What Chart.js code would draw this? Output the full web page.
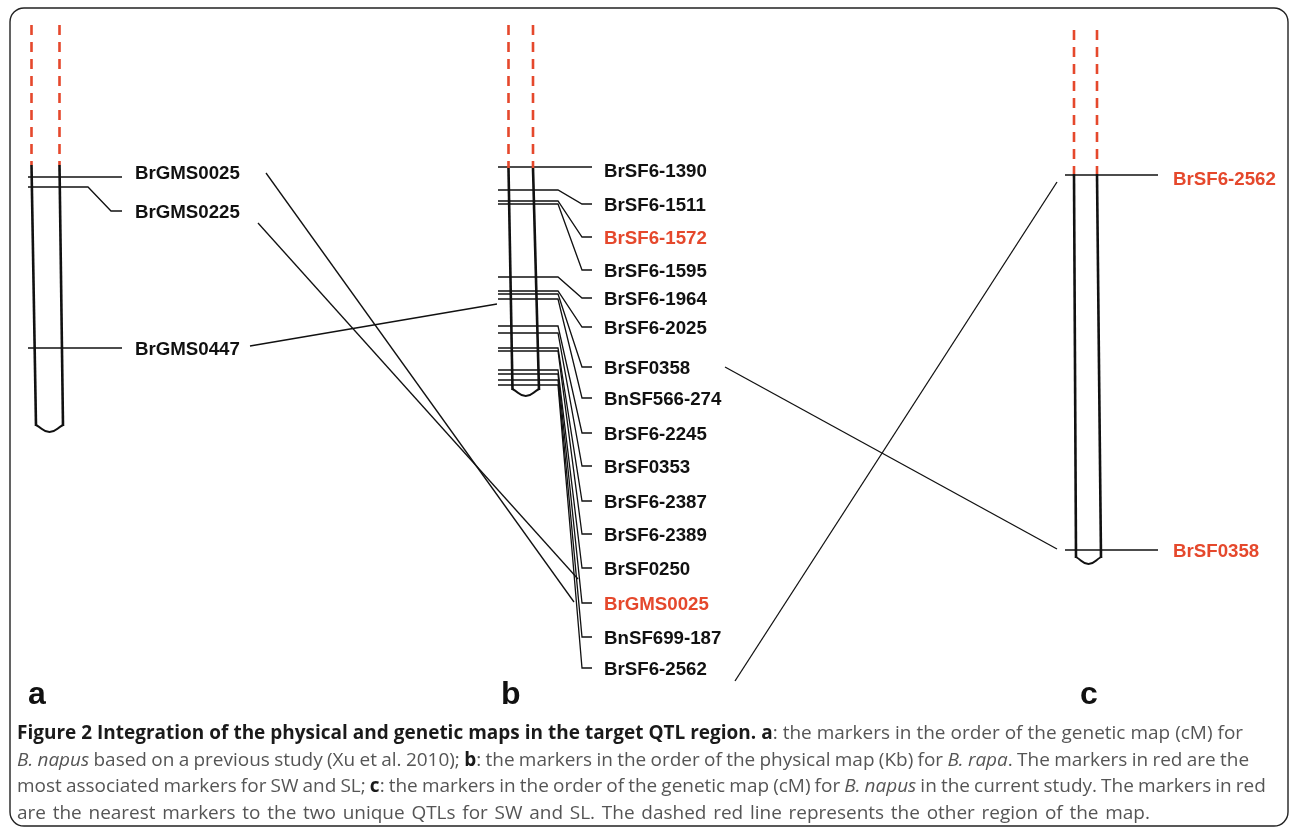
<!DOCTYPE html>
<html>
<head>
<meta charset="utf-8">
<title>Figure 2</title>
<script src="https://cdn.jsdelivr.net/npm/chart.js@4.4.1/dist/chart.umd.min.js"></script>
<style>
  body { margin: 0; background: #fff; }
  #wrap { position: relative; width: 1290px; height: 829px; overflow: hidden; }
  #chart { position: absolute; left: 0; top: 0; }
  #caption {
    position: absolute; left: 17px; top: 719px;
    font-family: 'Open Sans', sans-serif; font-size: 17px; line-height: 26.5px;
    color: #555; white-space: nowrap;
  }
  #caption b { color: #1a1a1a; }
</style>
</head>
<body>
<div id="wrap">
  <canvas id="chart" width="1290" height="829"></canvas>
  <div id="caption">
    <span class="line"><b>Figure 2 Integration of the physical and genetic maps in the target QTL region.</b> <b>a</b>: the markers in the order of the genetic map (cM) for</span><br>
    <span class="line"><i>B. napus</i> based on a previous study (Xu et al. 2010); <b>b</b>: the markers in the order of the physical map (Kb) for <i>B. rapa</i>. The markers in red are the</span><br>
    <span class="line">most associated markers for SW and SL; <b>c</b>: the markers in the order of the genetic map (cM) for <i>B. napus</i> in the current study. The markers in red</span><br>
    <span class="line">are the nearest markers to the two unique QTLs for SW and SL. The dashed red line represents the other region of the map.</span>
  </div>
</div>
<script>
// ---- data: markers and their positions along each map (top of figure = 0) ----
const markersA = ['BrGMS0025', 'BrGMS0225', 'BrGMS0447'];
const posA = [177, 187, 348];

const markersB = ['BrSF6-1390', 'BrSF6-1511', 'BrSF6-1572', 'BrSF6-1595', 'BrSF6-1964', 'BrSF6-2025',
  'BrSF0358', 'BnSF566-274', 'BrSF6-2245', 'BrSF0353', 'BrSF6-2387', 'BrSF6-2389', 'BrSF0250',
  'BrGMS0025', 'BnSF699-187', 'BrSF6-2562'];
const posB = [167, 190, 201, 204, 277, 291, 294, 299, 326, 333, 348, 351, 370, 374, 380, 385];

const markersC = ['BrSF6-2562', 'BrSF0358'];
const posC = [175, 550];

// markers in red
const redMarkers = { a: [], b: ['BrSF6-1572', 'BrGMS0025'], c: ['BrSF6-2562', 'BrSF0358'] };

// map extent: [start of dashed part, start of drawn part, end]
const extentA = [25, 165, 426];
const extentB = [25, 168, 390];
const extentC = [30, 174, 558];

// ---- layout ----
const RED = '#e5482c';
const INK = '#111';
const LABEL_FONT = 'bold 18.7px "Liberation Sans", Arial, sans-serif';

const panels = [
  { key: 'a', names: markersA, pos: posA, ext: extentA,
    left: [31.5, 36], right: [59.5, 63], tickFrom: 28, bend: 88, lead: 111, tickTo: 122,
    textX: 135, rows: [172, 211, 348], letterX: 28 },
  { key: 'b', names: markersB, pos: posB, ext: extentB,
    left: [508.5, 512.5], right: [533, 539], tickFrom: 498, bend: 558, lead: 582, tickTo: 592,
    textX: 604, rows: [170, 204, 237, 270, 298, 327, 367, 398, 433, 466, 501, 534, 568, 603, 637, 668], letterX: 501 },
  { key: 'c', names: markersC, pos: posC, ext: extentC,
    left: [1074, 1076], right: [1097, 1101], tickFrom: 1065, bend: 1100, lead: 1140, tickTo: 1158,
    textX: 1173, rows: [178, 550], letterX: 1080 }
];

// lines joining the same / related markers across the maps
const links = [
  [[266, 173], [574, 602]],
  [[258, 223], [578, 579]],
  [[250, 346], [497, 304]],
  [[725, 367], [1057, 549]],
  [[735, 681], [1057, 182]]
];

const datasets = [];
function addLine(points, opts) {
  datasets.push(Object.assign({
    data: points.map(p => ({ x: p[0], y: p[1] })),
    showLine: true, pointRadius: 0, borderColor: INK, borderWidth: 1.3,
    fill: false, tension: 0
  }, opts || {}));
}

panels.forEach(p => {
  // dashed red continuation above, then the drawn map
  [p.left, p.right].forEach(side => {
    addLine([[side[0], p.ext[0]], [side[0], p.ext[1]]], { borderColor: RED, borderWidth: 2.6, borderDash: [10, 7] });
    addLine([[side[0], p.ext[1]], [side[1], p.ext[2]]], { borderWidth: 2.6 });
  });
  // rounded bottom
  const mid = (p.left[1] + p.right[1]) / 2;
  addLine([[p.left[1], p.ext[2] - 1], [mid, p.ext[2] + 6], [p.right[1], p.ext[2] - 1]], { borderWidth: 2, tension: 0.5 });

  // marker ticks and leaders
  p.pos.forEach((v, i) => {
    const row = p.rows[i];
    if (Math.abs(row - v) <= 5) {
      addLine([[p.tickFrom, v], [p.tickTo, v]]);
    } else {
      addLine([[p.tickFrom, v], [p.bend, v], [p.lead, row], [p.tickTo, row]]);
    }
  });
});

links.forEach(l => addLine(l, { borderWidth: 1.3 }));

const textPlugin = {
  id: 'mapText',
  afterDatasetsDraw(chart) {
    const { ctx, scales: { x, y } } = chart;
    ctx.save();

    // frame around the figure
    ctx.strokeStyle = '#222';
    ctx.lineWidth = 1.4;
    ctx.beginPath();
    ctx.roundRect(x.getPixelForValue(10), y.getPixelForValue(8),
      x.getPixelForValue(1288) - x.getPixelForValue(10), y.getPixelForValue(826) - y.getPixelForValue(8), 14);
    ctx.stroke();

    ctx.font = LABEL_FONT;
    ctx.textBaseline = 'alphabetic';
    panels.forEach(p => {
      p.names.forEach((name, i) => {
        ctx.fillStyle = redMarkers[p.key].includes(name) ? RED : INK;
        ctx.fillText(name, x.getPixelForValue(p.textX), y.getPixelForValue(p.rows[i]) + 6.7);
      });
    });

    ctx.font = 'bold 32px "Liberation Sans", Arial, sans-serif';
    ctx.fillStyle = INK;
    panels.forEach(p => ctx.fillText(p.key, x.getPixelForValue(p.letterX), y.getPixelForValue(704)));
    ctx.restore();
  }
};

new Chart(document.getElementById('chart'), {
  type: 'scatter',
  data: { datasets: datasets },
  options: {
    responsive: false,
    devicePixelRatio: 1,
    animation: false,
    layout: { padding: 0 },
    plugins: { legend: { display: false }, tooltip: { enabled: false } },
    scales: {
      x: { type: 'linear', min: 0, max: 1290, display: false },
      y: { type: 'linear', min: 0, max: 829, reverse: true, display: false }
    }
  },
  plugins: [textPlugin]
});

// fit caption lines to the width they take in the printed figure
const targets = [1226, 1232, 1249, 1133];
const lines = document.querySelectorAll('#caption .line');
let sumW = 0, sumT = 0;
lines.forEach((el, i) => { sumW += el.getBoundingClientRect().width; sumT += targets[i]; });
const cap = document.getElementById('caption');
cap.style.fontSize = (17 * sumT / sumW).toFixed(2) + 'px';
lines.forEach((el, i) => {
  const spaces = (el.textContent.trim().match(/ /g) || []).length;
  const gap = targets[i] - el.getBoundingClientRect().width;
  el.style.wordSpacing = (gap / spaces).toFixed(2) + 'px';
});
</script>
</body>
</html>
